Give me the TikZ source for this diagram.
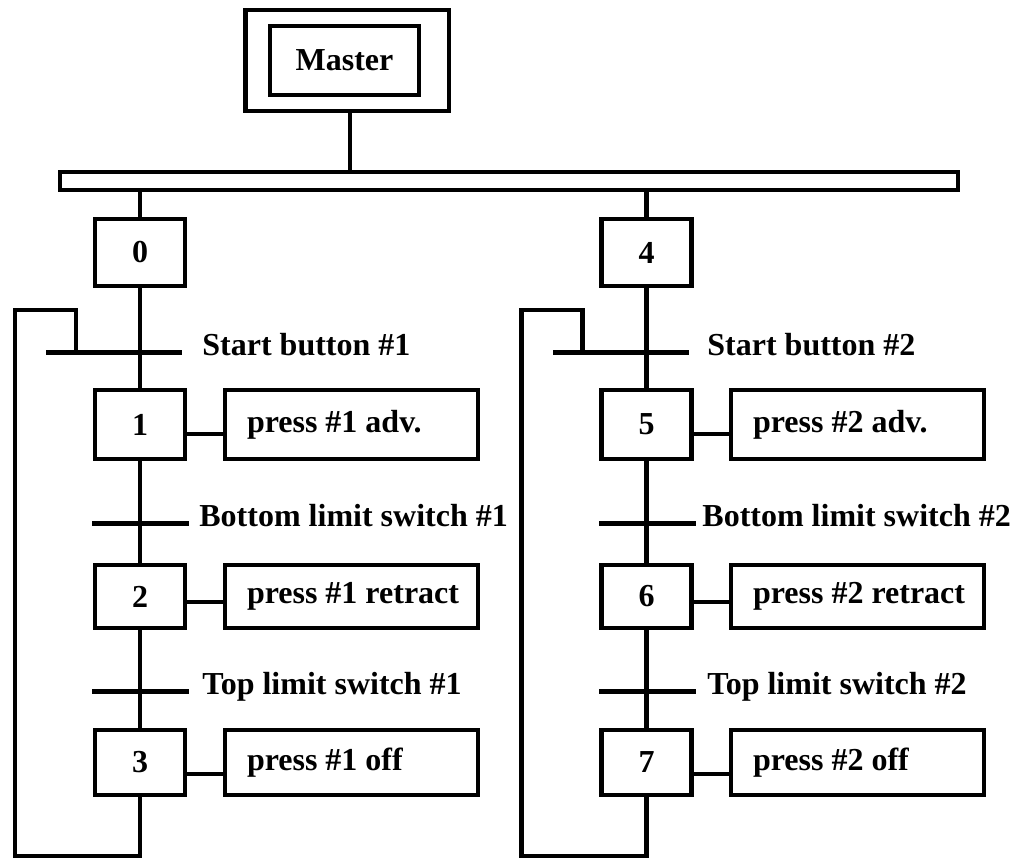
\documentclass[tikz,border=0pt]{standalone}
\usepackage{fontspec}
\setmainfont{Liberation Serif}
\newdimen\px \px=0.75pt
\newcommand\actxt[1]{\makebox[156.75pt][l]{#1}}
\begin{document}
\begin{tikzpicture}[x=0.75pt,y=-0.75pt,line width=3.6pt,
  box/.style={draw,rectangle,line width=3.6pt,inner sep=0pt,font=\fontsize{24}{28}\selectfont\bfseries},
  stepbox/.style={box,minimum width=90\px},
  actbox/.style={box,minimum width=253\px,inner xsep=22\px},
  trans/.style={rectangle,fill=black,draw=none,inner sep=0pt,minimum height=5\px},
  lab/.style={anchor=base west,inner sep=0pt,font=\fontsize{24}{28}\selectfont\bfseries}]
\useasboundingbox (0,0) rectangle (1017,861);
% master
\node[box,minimum width=203.5\px,minimum height=101\px] (mo) at (347.25,60.5) {};
\node[box,minimum width=149\px,minimum height=69\px] (mi) at (344.5,60.5) {Master};
\node[box,minimum width=898\px,minimum height=18\px] (bar) at (509,181) {};
\draw ([xshift=2.75\px]mo.south) -- ([xshift=2.75\px]mo.south |- bar.north);
% left branch
\node[stepbox,minimum height=67\px] (s0) at (140,252.5) {0};
\node[stepbox,minimum height=69\px] (s1) at (140,424.5) {1};
\node[stepbox,minimum height=63\px] (s2) at (140,596.5) {2};
\node[stepbox,minimum height=65\px] (s3) at (140,762.5) {3};
\node[actbox,minimum height=69\px] (a1) at (351.5,424.5) {\actxt{press \#1 adv.}};
\node[actbox,minimum height=63\px] (a2) at (351.5,596.5) {\actxt{press \#1 retract}};
\node[actbox,minimum height=65\px] (a3) at (351.5,762.5) {\actxt{press \#1 off}};
\node[trans,minimum width=136\px] (t1) at (114,352) {};
\node[trans,minimum width=97\px] (t2) at (140.5,523) {};
\node[trans,minimum width=97\px] (t3) at (140.5,691) {};
\node[lab] (l1) at (200,355) {Start button \#1};
\node[lab] (l2) at (197,526) {Bottom limit switch \#1};
\node[lab] (l3) at (200,694) {Top limit switch \#1};
\draw (s0.north) -- (s0.north |- bar.south);
\draw (s0) -- (s1);
\draw (s1) -- (s2);
\draw (s2) -- (s3);
\draw ([yshift=-9.5\px]s1.east) -- ([yshift=-9.5\px]a1.west);
\draw ([yshift=-5.5\px]s2.east) -- ([yshift=-5.5\px]a2.west);
\draw ([yshift=-11.5\px]s3.east) -- ([yshift=-11.5\px]a3.west);
\coordinate (lb) at (15,856);
\draw (s3.south) |- (lb) |- (76,310) -- (76,352);
% right branch
\node[stepbox,minimum height=67\px] (s4) at (646.5,252.5) {4};
\node[stepbox,minimum height=69\px] (s5) at (646.5,424.5) {5};
\node[stepbox,minimum height=63\px] (s6) at (646.5,596.5) {6};
\node[stepbox,minimum height=65\px] (s7) at (646.5,762.5) {7};
\node[actbox,minimum height=69\px] (a5) at (857.5,424.5) {\actxt{press \#2 adv.}};
\node[actbox,minimum height=63\px] (a6) at (857.5,596.5) {\actxt{press \#2 retract}};
\node[actbox,minimum height=65\px] (a7) at (857.5,762.5) {\actxt{press \#2 off}};
\node[trans,minimum width=136\px] (t5) at (620.5,352) {};
\node[trans,minimum width=97\px] (t6) at (647,523) {};
\node[trans,minimum width=97\px] (t7) at (647,691) {};
\node[lab] (l5) at (705,355) {Start button \#2};
\node[lab] (l6) at (700,526) {Bottom limit switch \#2};
\node[lab] (l7) at (705,694) {Top limit switch \#2};
\draw (s4.north) -- (s4.north |- bar.south);
\draw (s4) -- (s5);
\draw (s5) -- (s6);
\draw (s6) -- (s7);
\draw ([yshift=-9.5\px]s5.east) -- ([yshift=-9.5\px]a5.west);
\draw ([yshift=-5.5\px]s6.east) -- ([yshift=-5.5\px]a6.west);
\draw ([yshift=-11.5\px]s7.east) -- ([yshift=-11.5\px]a7.west);
\coordinate (rb) at (521.5,856);
\draw (s7.south) |- (rb) |- (582.5,310) -- (582.5,352);
\end{tikzpicture}
\end{document}
